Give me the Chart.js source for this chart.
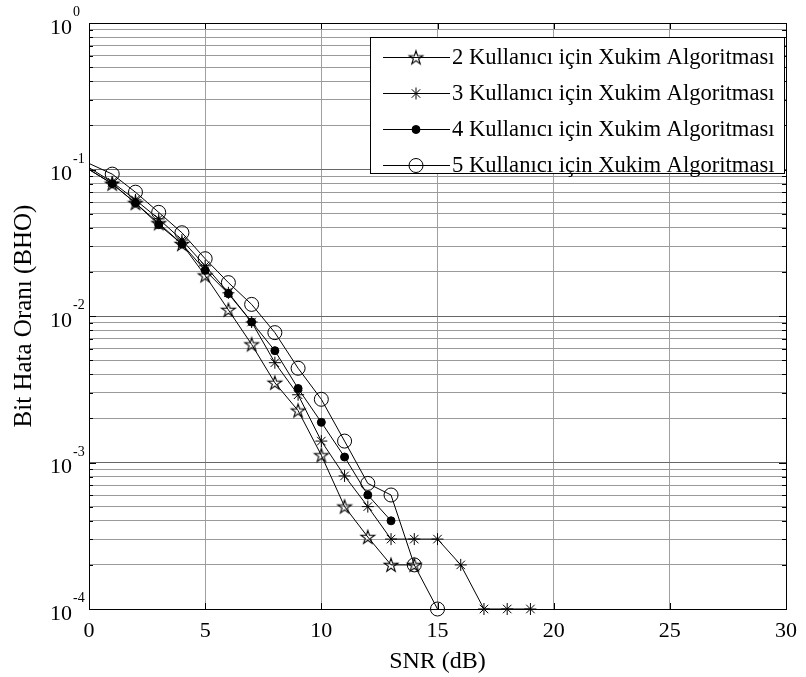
<!DOCTYPE html>
<html>
<head>
<meta charset="utf-8">
<script src="https://cdn.jsdelivr.net/npm/chart.js@4.4.1/dist/chart.umd.min.js"></script>
<style>
html, body { margin: 0; padding: 0; background: #fff; }
#wrap { width: 806px; height: 677px; }
</style>
</head>
<body>
<div id="wrap"><canvas id="berChart" width="806" height="677"></canvas></div>
<script>
// SNR (dB) values, the x positions of the measured points
const snr = [0, 1, 2, 3, 4, 5, 6, 7, 8, 9, 10, 11, 12, 13, 14, 15, 16, 17, 18, 19];

// bit error rates, one array per user count
const ber2users = [0.100, 0.080, 0.059, 0.043, 0.031, 0.0189, 0.0110, 0.0064, 0.0035, 0.00226, 0.00112, 0.00050, 0.00031, 0.00020, 0.00020];
const ber3users = [0.103, 0.082, 0.062, 0.046, 0.033, 0.0220, 0.0144, 0.0091, 0.0048, 0.0029, 0.00140, 0.00081, 0.00050, 0.00030, 0.00030, 0.00030, 0.00020, 0.00010, 0.00010, 0.00010];
const ber4users = [0.100, 0.080, 0.059, 0.042, 0.031, 0.0205, 0.0142, 0.0091, 0.0058, 0.0032, 0.00188, 0.00109, 0.00060, 0.00040];
const ber5users = [0.110, 0.093, 0.070, 0.051, 0.037, 0.0246, 0.0169, 0.0120, 0.0077, 0.0044, 0.00270, 0.00140, 0.00072, 0.00060, 0.00020, 0.00010];

const seriesLabels = [
  '2 Kullanıcı için Xukim Algoritması',
  '3 Kullanıcı için Xukim Algoritması',
  '4 Kullanıcı için Xukim Algoritması',
  '5 Kullanıcı için Xukim Algoritması'
];

const xTicks = [0, 5, 10, 15, 20, 25, 30];
const yMajorTicks = [1e-4, 1e-3, 1e-2, 1e-1, 1];
const yTickExponents = ['-4', '-3', '-2', '-1', '0'];

const FONT = '"Liberation Serif", "Times New Roman", serif';

// matlab 'p' marker: hollow five pointed star
function makePentagram(size, r) {
  const c = document.createElement('canvas');
  c.width = size; c.height = size;
  const g = c.getContext('2d');
  const ri = r * 0.382;
  g.beginPath();
  for (let i = 0; i < 10; i++) {
    const rr = i % 2 === 0 ? r : ri;
    const a = -Math.PI / 2 + i * Math.PI / 5;
    const px = size / 2 + rr * Math.cos(a);
    const py = size / 2 + 0.5 + rr * Math.sin(a);
    if (i === 0) g.moveTo(px, py); else g.lineTo(px, py);
  }
  g.closePath();
  g.strokeStyle = '#000';
  g.lineWidth = 1.1;
  g.stroke();
  return c;
}
const pentagram = makePentagram(18, 7.2);

function toPoints(vals) {
  return vals.map((v, i) => ({ x: snr[i], y: v }));
}
function radii(vals, r) {
  return vals.map((v, i) => (i === 0 ? 0 : r));
}

function lineSet(label, vals, style, r, fill) {
  return {
    label: label,
    data: toPoints(vals),
    borderColor: '#000',
    borderWidth: 1,
    pointStyle: style,
    pointRadius: radii(vals, r),
    pointBorderColor: '#000',
    pointBorderWidth: 1,
    pointBackgroundColor: fill,
    tension: 0,
    fill: false,
    clip: false
  };
}

const datasets = [
  lineSet(seriesLabels[0], ber2users, pentagram, 7, 'rgba(0,0,0,0)'),
  lineSet(seriesLabels[1], ber3users, 'star', 6, 'rgba(0,0,0,0)'),
  lineSet(seriesLabels[2], ber4users, 'circle', 4, '#000'),
  lineSet(seriesLabels[3], ber5users, 'circle', 7, 'rgba(0,0,0,0)')
];

function isMajor(v) {
  const l = Math.log10(v);
  return Math.abs(l - Math.round(l)) < 1e-9;
}

function drawMarker(ctx, ds, x, y) {
  const r = ds.pointRadius[1];
  ctx.save();
  ctx.strokeStyle = '#000';
  ctx.fillStyle = ds.pointBackgroundColor;
  ctx.lineWidth = 1;
  if (Chart.helpers && Chart.helpers.drawPoint) {
    Chart.helpers.drawPoint(ctx, { pointStyle: ds.pointStyle, radius: r, borderWidth: 1, rotation: 0 }, x, y);
  } else if (ds.pointStyle instanceof HTMLCanvasElement) {
    ctx.drawImage(ds.pointStyle, x - ds.pointStyle.width / 2, y - ds.pointStyle.height / 2);
  } else {
    ctx.beginPath();
    ctx.arc(x, y, r, 0, Math.PI * 2);
    ctx.fill();
    ctx.stroke();
  }
  ctx.restore();
}

const matlabLook = {
  id: 'matlabLook',
  afterDraw(chart) {
    const ctx = chart.ctx;
    const a = chart.chartArea;
    const xs = chart.scales.x;
    const ys = chart.scales.y;
    ctx.save();

    // box round the axes
    ctx.strokeStyle = '#000';
    ctx.lineWidth = 1;
    ctx.strokeRect(Math.round(a.left) + 0.5, Math.round(a.top) + 0.5, Math.round(a.right - a.left), Math.round(a.bottom - a.top));

    // inward tick marks
    ctx.beginPath();
    xTicks.forEach(v => {
      const px = Math.round(xs.getPixelForValue(v)) + 0.5;
      ctx.moveTo(px, a.bottom); ctx.lineTo(px, a.bottom - 6);
      ctx.moveTo(px, a.top); ctx.lineTo(px, a.top + 6);
    });
    ys.ticks.forEach(t => {
      const py = Math.round(ys.getPixelForValue(t.value)) + 0.5;
      const len = isMajor(t.value) ? 7 : 4;
      ctx.moveTo(a.left, py); ctx.lineTo(a.left + len, py);
      ctx.moveTo(a.right, py); ctx.lineTo(a.right - len, py);
    });
    ctx.stroke();

    // y tick labels as 10 with a raised exponent
    ctx.fillStyle = '#000';
    yMajorTicks.forEach((v, i) => {
      const py = ys.getPixelForValue(v);
      ctx.font = '22px ' + FONT;
      ctx.textAlign = 'right';
      ctx.textBaseline = 'alphabetic';
      ctx.fillText('10', 72, py + 10.5);
      ctx.font = '14px ' + FONT;
      ctx.textAlign = 'left';
      ctx.fillText(yTickExponents[i], 73, py - 7);
    });

    // legend box, matlab style
    const bx = 370, by = 37, bw = 414, bh = 136;
    ctx.fillStyle = '#fff';
    ctx.fillRect(bx, by, bw, bh);
    ctx.strokeStyle = '#000';
    ctx.strokeRect(bx + 0.5, by + 0.5, bw, bh);
    chart.data.datasets.forEach((ds, i) => {
      const ry = Math.round(by + 20 + i * 36) + 0.5;
      ctx.beginPath();
      ctx.moveTo(383, ry); ctx.lineTo(450, ry);
      ctx.strokeStyle = '#000';
      ctx.lineWidth = 1;
      ctx.stroke();
      drawMarker(ctx, ds, 416, ry);
      ctx.fillStyle = '#000';
      ctx.font = '22.6px ' + FONT;
      ctx.textAlign = 'left';
      ctx.textBaseline = 'middle';
      ctx.fillText(ds.label, 452, ry + 1);
    });
    ctx.restore();
  }
};

new Chart(document.getElementById('berChart').getContext('2d'), {
  type: 'line',
  data: { datasets: datasets },
  options: {
    responsive: false,
    animation: false,
    devicePixelRatio: 1,
    events: [],
    layout: { padding: { top: 23, right: 11, left: 0, bottom: 0 } },
    plugins: {
      legend: { display: false },
      tooltip: { enabled: false }
    },
    scales: {
      x: {
        type: 'linear',
        min: 0,
        max: 30,
        afterBuildTicks: s => { s.ticks = xTicks.map(v => ({ value: v })); },
        afterFit: s => { s.height = 68; },
        ticks: { color: '#000', font: { family: FONT, size: 22 }, padding: 9, maxRotation: 0 },
        grid: { color: '#a0a0a0', lineWidth: 1, drawTicks: false },
        border: { display: false },
        title: {
          display: true,
          text: 'SNR (dB)',
          color: '#000',
          font: { family: FONT, size: 24 },
          padding: { top: 0, bottom: 1 }
        }
      },
      y: {
        type: 'logarithmic',
        min: 1e-4,
        max: 1,
        afterBuildTicks: s => {
          const ticks = [];
          yMajorTicks.forEach((m, i) => {
            if (i === yMajorTicks.length - 1) { ticks.push({ value: m }); return; }
            for (let k = 1; k <= 9; k++) ticks.push({ value: +(k * m).toPrecision(3) });
          });
          s.ticks = ticks;
        },
        afterFit: s => { s.width = 89; },
        ticks: { display: false, autoSkip: false },
        grid: {
          color: c => (c.tick && isMajor(c.tick.value) ? '#666666' : '#9a9a9a'),
          lineWidth: 1,
          drawTicks: false
        },
        border: { display: false },
        title: {
          display: true,
          text: 'Bit Hata Oranı (BHO)',
          color: '#000',
          font: { family: FONT, size: 25 },
          padding: { top: 9, bottom: 0 }
        }
      }
    }
  },
  plugins: [matlabLook]
});
</script>
</body>
</html>
